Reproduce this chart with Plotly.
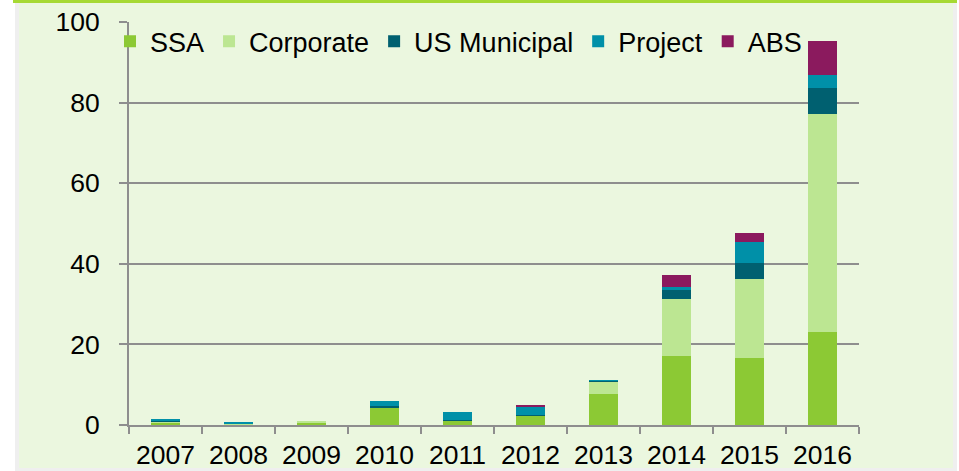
import plotly.graph_objects as go

years = ["2007", "2008", "2009", "2010", "2011", "2012", "2013", "2014", "2015", "2016"]
ssa = [0.7, 0.15, 0.7, 4.2, 1.1, 2.4, 7.8, 17.1, 16.7, 23.1]
corporate = [0.1, 0.2, 0.1, 0.0, 0.0, 0.0, 3.0, 14.1, 19.5, 54.0]
us_municipal = [0.1, 0.0, 0.0, 0.5, 0.1, 0.1, 0.2, 2.4, 4.1, 6.6]
project = [0.5, 0.2, 0.0, 1.3, 2.0, 2.2, 0.1, 0.6, 5.0, 3.1]
abs_ = [0.0, 0.0, 0.0, 0.0, 0.0, 0.15, 0.0, 3.0, 2.4, 8.4]

W, H = 959, 471
L, R, T, B = 129, 100, 22, 46
pw, ph = W - L - R, H - T - B


def px(x):
    return (x - L) / pw


def py(y):
    return (H - B - y) / ph


GRID = "#8E8E8E"
FONT = dict(family="Liberation Sans, Arial, sans-serif", size=26.5, color="black")
LEG_FONT = dict(family="Liberation Sans, Arial, sans-serif", size=27, color="black")

fig = go.Figure()
for name, vals, color in [
    ("SSA", ssa, "#8CC934"),
    ("Corporate", corporate, "#BCE692"),
    ("US Municipal", us_municipal, "#006070"),
    ("Project", project, "#0090A8"),
    ("ABS", abs_, "#8B1A5E"),
]:
    fig.add_trace(go.Bar(x=years, y=vals, name=name, marker=dict(color=color, line=dict(width=0))))

# outer panel: grey frame, light green body, green bar on top
shapes = [
    dict(type="rect", xref="paper", yref="paper", x0=px(15), x1=px(957), y0=py(471), y1=py(3),
         fillcolor="#EFEFEF", line=dict(width=0), layer="below"),
    dict(type="rect", xref="paper", yref="paper", x0=px(19), x1=px(953), y0=py(468), y1=py(3),
         fillcolor="#EBF7DF", line=dict(width=0), layer="below"),
    dict(type="rect", xref="paper", yref="paper", x0=px(13), x1=px(957), y0=py(3), y1=py(0),
         fillcolor="#A6D934", line=dict(width=0), layer="below"),
]

fig.update_layout(
    width=W, height=H,
    margin=dict(l=L, r=R, t=T, b=B, autoexpand=False),
    barmode="stack",
    bargap=0.6,
    paper_bgcolor="white",
    plot_bgcolor="rgba(0,0,0,0)",
    font=FONT,
    shapes=shapes,
    showlegend=True,
    legend=dict(orientation="h", xref="container", x=110 / W, xanchor="left",
                y=1.012, yanchor="top",
                bgcolor="rgba(0,0,0,0)", font=LEG_FONT, itemwidth=30, traceorder="normal"),
    xaxis=dict(type="category", showline=True, linecolor=GRID, linewidth=2,
               ticks="outside", tickson="boundaries", ticklen=7, tickwidth=2, tickcolor=GRID,
               showgrid=False, tickfont=FONT, ticklabelstandoff=5),
    yaxis=dict(range=[0, 100], dtick=20, showline=True, linecolor=GRID, linewidth=2,
               ticks="outside", ticklen=8, tickwidth=2, tickcolor=GRID,
               showgrid=True, gridcolor=GRID, gridwidth=2, zeroline=False,
               tickfont=FONT, ticklabelstandoff=14),
)

fig.write_html("out.html", config={"displayModeBar": False},
               post_script="document.body.style.margin='0';")
